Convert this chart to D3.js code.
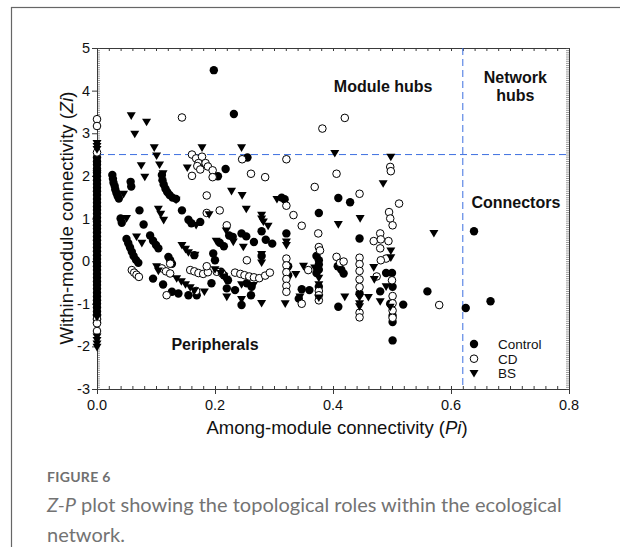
<!DOCTYPE html>
<html><head><meta charset="utf-8">
<script src="https://cdn.jsdelivr.net/npm/d3@7"></script>
<style>body{margin:0;background:#fff}svg{display:block}</style>
</head><body><svg id="c" width="620" height="547"></svg>
<script>
// ---------------- data ----------------
const xTicks = [0, 0.2, 0.4, 0.6, 0.8];
const xTickLabels = ["0.0", "0.2", "0.4", "0.6", "0.8"];
const yTicks = [-3, -2, -1, 0, 1, 2, 3, 4, 5];
const yTickLabels = ["-3", "-2", "-1", "0", "1", "2", "3", "4", "5"];
const seriesNames = ["Control", "CD", "BS"];
const hubThresholdZ = 2.5;
const connectorThresholdP = 0.62;
const regionNames = ["Module hubs", "Network hubs", "Connectors", "Peripherals"];

// Control (filled circles): [Pi, Zi]
const control = [
  [0,2.43],[0,2.34],[0,2.26],[0,2.17],[0,2.08],[0,1.99],[0,1.9],[0,1.81],[0,1.72],[0,1.64],
  [0,1.55],[0,1.46],[0,1.37],[0,1.28],[0,1.2],[0,1.11],[0,1.02],[0,0.93],[0,0.84],[0,0.76],
  [0,0.67],[0,0.58],[0,0.49],[0,0.4],[0,0.32],[0,0.23],[0,0.14],[0,0.05],[0,-0.04],[0,-0.12],
  [0,-0.21],[0,-0.3],[0,-0.39],[0,-0.48],[0,-0.56],[0,-0.65],[0,-0.74],[0,-0.83],[0,-0.92],[0,-1.0],
  [0,-1.09],[0,-1.18],[0,-1.27],[0,-1.36],[0,-1.44],
  [0.198,4.48],[0.232,3.45],
  [0.026,2.02],[0.027,1.93],[0.028,1.84],[0.030,1.76],[0.031,1.68],[0.033,1.60],[0.035,1.53],[0.037,1.47],
  [0.057,1.86],[0.058,1.75],
  [0.110,2.02],[0.111,1.90],[0.113,1.80],[0.116,1.70],[0.119,1.62],[0.123,1.55],[0.128,1.49],[0.134,1.46],
  [0.205,1.99],[0.218,2.16],[0.255,2.43],
  [0.313,1.49],[0.318,1.45],[0.376,1.13],[0.409,1.48],[0.429,1.38],
  [0.040,1.00],[0.042,0.90],[0.072,1.19],[0.079,0.86],
  [0.144,1.19],[0.155,0.97],[0.160,0.89],[0.175,0.92],
  [0.279,0.70],[0.321,0.65],[0.445,0.53],
  [0.224,0.60],[0.230,0.57],[0.245,0.65],[0.253,0.58],[0.266,0.45],[0.286,0.50],[0.297,0.41],
  [0.208,0.43],[0.215,0.35],
  [0.050,0.52],[0.053,0.42],[0.056,0.32],[0.059,0.22],[0.062,0.12],[0.066,0.03],[0.070,-0.04],
  [0.090,0.60],[0.095,0.48],[0.100,0.38],[0.104,0.30],
  [0.121,0.10],[0.124,0.02],[0.127,-0.06],
  [0.165,0.14],[0.197,0.18],[0.200,0.02],[0.279,0.12],
  [0.372,0.12],[0.376,0.02],[0.376,-0.08],[0.376,-0.20],[0.372,-0.28],
  [0.408,-0.12],[0.414,-0.20],[0.418,-0.29],
  [0.095,-0.41],[0.112,-0.55],[0.127,-0.72],[0.138,-0.76],
  [0.155,-0.80],[0.169,-0.80],[0.194,-0.52],[0.210,-0.25],[0.215,-0.33],
  [0.220,-0.64],[0.234,-0.68],[0.222,-0.45],
  [0.245,-1.03],[0.261,-0.80],[0.262,-0.60],[0.254,-0.52],
  [0.324,-0.12],[0.324,-0.33],
  [0.347,-0.66],[0.360,-0.68],[0.376,-0.60],[0.342,-0.88],
  [0.409,-1.07],[0.480,-0.71],[0.490,-0.28],[0.500,-0.28],[0.501,-0.60],[0.501,-1.28],[0.501,-1.43],
  [0.501,-1.86],[0.519,-1.02],[0.497,-1.00],[0.445,-0.76],
  [0.560,-0.71],[0.639,0.70],[0.625,-1.10],[0.667,-0.94]
];

// CD (open circles): [Pi, Zi]
const cd = [
  [0,3.33],[0,3.17],[0,2.55],[0,-1.36],[0,-1.46],[0,-1.64],
  [0.144,3.37],[0.382,3.11],[0.420,3.36],
  [0.406,2.05],[0.369,1.74],[0.261,2.05],[0.285,1.97],[0.321,2.39],[0.246,2.39],
  [0.445,1.58],[0.497,2.21],[0.498,2.11],
  [0.161,2.50],[0.168,2.41],[0.178,2.45],[0.172,2.30],[0.170,2.23],[0.175,2.15],[0.184,2.30],
  [0.188,2.22],[0.196,2.13],[0.161,2.00],[0.196,1.97],
  [0.186,1.54],[0.186,1.13],[0.208,1.19],[0.220,0.84],
  [0.321,1.30],[0.333,1.08],[0.347,0.83],
  [0.375,0.65],[0.376,0.33],[0.378,0.25],
  [0.512,1.35],[0.495,1.15],[0.497,1.00],[0.501,0.84],
  [0.480,0.65],[0.469,0.47],[0.481,0.51],[0.494,0.47],[0.480,0.30],
  [0.490,0.06],[0.481,0.02],[0.474,-0.36],[0.500,-0.45],
  [0.501,-0.82],[0.501,-0.99],[0.501,-1.16],[0.501,-1.33],
  [0.445,0.08],[0.445,-0.07],[0.445,-0.23],[0.445,-0.43],[0.445,-0.61],[0.445,-1.21],[0.445,-1.32],
  [0.406,0.10],[0.412,-0.04],[0.418,-0.01],
  [0.358,-0.21],[0.347,-1.00],[0.376,-0.92],[0.376,-0.70],[0.376,-0.80],
  [0.321,0.06],[0.321,-0.10],[0.321,-0.26],[0.321,-0.42],[0.321,-0.58],[0.321,-0.72],
  [0.580,-1.03],
  [0.059,-0.21],[0.063,-0.27],[0.067,-0.32],[0.071,-0.37],
  [0.110,-0.17],[0.117,-0.24],[0.124,-0.29],[0.124,-0.06],[0.118,-0.80],
  [0.158,-0.21],[0.165,-0.24],[0.172,-0.28],[0.180,-0.30],[0.188,-0.26],[0.186,-0.12],[0.203,-0.25],
  [0.212,-0.29],[0.168,-0.70],
  [0.234,-0.27],[0.243,-0.30],[0.250,-0.33],[0.258,-0.36],[0.266,-0.38],[0.275,-0.40],
  [0.285,-0.34],[0.293,-0.27],[0.254,0.02]
];

// BS (down triangles): [Pi, Zi]
const bs = [
  [0,2.76],[0,2.69],[0,2.62],[0,2.05],[0,-1.32],[0,-1.78],[0,-1.86],[0,-1.94],[0,-2.02],
  [0.058,3.41],[0.084,3.26],[0.064,2.98],[0.097,2.66],[0.101,2.47],[0.178,2.66],[0.245,2.66],
  [0.403,2.53],[0.498,2.44],[0.485,1.82],
  [0.075,2.24],[0.106,2.26],[0.081,1.97],[0.153,2.19],[0.112,2.05],[0.045,1.57],[0.228,1.64],
  [0.246,1.54],[0.134,1.43],[0.253,1.22],[0.305,1.45],
  [0.050,1.00],[0.104,1.22],[0.108,1.10],[0.113,0.96],[0.168,0.84],[0.190,1.09],
  [0.279,1.08],[0.279,0.99],[0.282,0.92],[0.290,0.82],
  [0.321,0.45],[0.321,0.37],[0.409,0.86],[0.446,1.00],[0.571,0.65],
  [0.219,0.71],[0.231,0.45],[0.202,0.47],
  [0.067,0.57],[0.076,0.42],
  [0.144,0.37],[0.150,0.28],[0.155,0.20],[0.166,0.14],
  [0.248,0.33],[0.498,0.24],[0.498,0.08],[0.279,0.16],[0.279,-0.04],
  [0.101,-0.13],[0.104,-0.23],
  [0.135,-0.41],[0.143,-0.48],[0.150,-0.55],[0.158,-0.62],[0.165,-0.70],[0.182,-0.72],
  [0.200,-0.20],[0.210,-0.29],[0.215,-0.37],[0.219,-0.42],
  [0.245,-0.55],[0.265,-0.57],[0.220,-0.84],[0.245,-0.90],
  [0.279,-0.99],[0.319,-1.00],[0.337,-0.31],[0.350,-0.12],[0.369,-0.16],[0.344,-0.84],
  [0.376,-0.40],[0.376,-0.55],[0.376,-0.86],
  [0.469,-0.15],[0.470,-0.43],[0.490,-0.60],[0.480,-0.95],
  [0.420,-0.84],[0.445,-0.85],[0.460,-0.85],[0.445,-1.00],[0.445,-1.07],[0.497,-1.08]
];

// ---------------- drawing ----------------
const svg = d3.select("#c");
const FONT = "Arial, 'Liberation Sans', Helvetica, sans-serif";
const x = d3.scaleLinear().domain([0, 0.8]).range([97, 569]);
const y = d3.scaleLinear().domain([-3, 5]).range([389, 48]);

// outer figure frame
svg.append("rect").attr("x", 11.5).attr("y", 7.5).attr("width", 800).attr("height", 800)
  .attr("fill", "none").attr("stroke", "#666").attr("stroke-width", 1.2);

const minorX = d3.range(0, 0.8001, 0.02);
const minorY = d3.range(-3, 5.0001, 0.05);
const axisColor = "#3a3a3a";

function styleAxis(g, hideDomain) {
  g.selectAll("line").attr("stroke", axisColor);
  g.select(".domain").attr("stroke", axisColor).attr("display", hideDomain ? "none" : null);
}

// bottom
svg.append("g").attr("transform", `translate(0,${y(-3)})`)
  .call(d3.axisBottom(x).tickValues(minorX).tickSize(-3).tickFormat(""))
  .call(g => styleAxis(g, true));
svg.append("g").attr("transform", `translate(0,${y(-3)})`)
  .call(d3.axisBottom(x).tickValues(xTicks).tickFormat("").tickSizeInner(5).tickSizeOuter(0))
  .call(g => styleAxis(g, false));
// top
svg.append("g").attr("transform", `translate(0,${y(5)})`)
  .call(d3.axisTop(x).tickValues(minorX).tickSizeInner(-3).tickSizeOuter(0).tickFormat(""))
  .call(g => styleAxis(g, false));
// left
svg.append("g").attr("transform", `translate(${x(0)},0)`)
  .call(d3.axisLeft(y).tickValues(minorY).tickSize(-3).tickFormat(""))
  .call(g => { styleAxis(g, true); g.selectAll("line").attr("stroke-width", 0.6).attr("stroke", "#555"); });
svg.append("g").attr("transform", `translate(${x(0)},0)`)
  .call(d3.axisLeft(y).tickValues(yTicks).tickFormat("").tickSizeInner(5).tickSizeOuter(0))
  .call(g => styleAxis(g, false));
// right
svg.append("g").attr("transform", `translate(${x(0.8)},0)`)
  .call(d3.axisRight(y).tickValues(minorY).tickSizeInner(-3).tickSizeOuter(0).tickFormat(""))
  .call(g => { styleAxis(g, false); g.selectAll(".tick line").attr("stroke-width", 0.6).attr("stroke", "#555"); });

// tick labels (explicit text, positioned through the scales)
const tl = svg.append("g").attr("font-family", FONT).attr("font-size", 14.5).attr("fill", "#111");
tl.selectAll("text.xl").data(xTicks).join("text").attr("class", "xl")
  .attr("x", d => x(d)).attr("y", y(-3) + 21).attr("text-anchor", "middle")
  .text((d, i) => xTickLabels[i]);
tl.selectAll("text.yl").data(yTicks).join("text").attr("class", "yl")
  .attr("x", x(0) - 7).attr("y", d => y(d) + 5).attr("text-anchor", "end")
  .text((d, i) => yTickLabels[i]);

// threshold dashed lines
const dashColor = "#3d6fe0";
svg.append("line").attr("x1", x(0)).attr("x2", x(0.8)).attr("y1", y(hubThresholdZ)).attr("y2", y(hubThresholdZ))
  .attr("stroke", dashColor).attr("stroke-width", 1).attr("stroke-dasharray", "7,4");
svg.append("line").attr("x1", x(connectorThresholdP)).attr("x2", x(connectorThresholdP)).attr("y1", y(5)).attr("y2", y(-3))
  .attr("stroke", dashColor).attr("stroke-width", 1).attr("stroke-dasharray", "7,4");

// markers
const triPath = "M-4.5,-3.4L4.5,-3.4L0,4.2Z";
const pts = svg.append("g");
pts.selectAll("circle.ctl").data(control).join("circle").attr("class", "ctl")
  .attr("cx", d => x(d[0])).attr("cy", d => y(d[1])).attr("r", 4.2).attr("fill", "#000");
pts.selectAll("circle.cd").data(cd).join("circle").attr("class", "cd")
  .attr("cx", d => x(d[0])).attr("cy", d => y(d[1])).attr("r", 3.8)
  .attr("fill", "#fff").attr("stroke", "#000").attr("stroke-width", 1);
pts.selectAll("path.bs").data(bs).join("path").attr("class", "bs")
  .attr("transform", d => `translate(${x(d[0])},${y(d[1])})`).attr("d", triPath).attr("fill", "#000");

// region labels
const lab = svg.append("g").attr("font-family", FONT).attr("font-weight", "bold").attr("font-size", 16)
  .attr("text-anchor", "middle").attr("fill", "#111");
lab.append("text").attr("x", x(0.485)).attr("y", y(3.96)).text(regionNames[0]);
const nh = regionNames[1].split(" ");
lab.append("text").attr("x", x(0.709)).attr("y", y(4.17)).text(nh[0]);
lab.append("text").attr("x", x(0.709)).attr("y", y(3.75)).text(nh[1]);
lab.append("text").attr("x", x(0.71)).attr("y", y(1.24)).text(regionNames[2]);
lab.append("text").attr("x", x(0.2)).attr("y", y(-2.08)).text(regionNames[3]);

// legend
const leg = svg.append("g").attr("font-family", FONT).attr("font-size", 13.5).attr("fill", "#111");
const legX = 474, legY0 = 344, legDY = 14.7;
seriesNames.forEach((name, i) => {
  const cy = legY0 + i * legDY;
  if (i === 0) leg.append("circle").attr("cx", legX).attr("cy", cy).attr("r", 4.2).attr("fill", "#000");
  if (i === 1) leg.append("circle").attr("cx", legX).attr("cy", cy).attr("r", 3.8).attr("fill", "#fff").attr("stroke", "#000");
  if (i === 2) leg.append("path").attr("transform", `translate(${legX},${cy})`).attr("d", triPath).attr("fill", "#000");
  leg.append("text").attr("x", legX + 24).attr("y", cy + 4.8).text(name);
});

// axis titles
const xt = svg.append("text").attr("x", 337).attr("y", 434).attr("text-anchor", "middle")
  .attr("font-family", FONT).attr("font-size", 18.5).attr("fill", "#111");
xt.append("tspan").text("Among-module connectivity (");
xt.append("tspan").attr("font-style", "italic").text("Pi");
xt.append("tspan").text(")");
const yt = svg.append("text").attr("transform", "translate(73,218) rotate(-90)").attr("text-anchor", "middle")
  .attr("font-family", FONT).attr("font-size", 18.5).attr("fill", "#111");
yt.append("tspan").text("Within-module connectivity (");
yt.append("tspan").attr("font-style", "italic").text("Zi");
yt.append("tspan").text(")");

// caption
const CAPFONT = "Lato, 'Open Sans', 'Noto Sans', sans-serif";
svg.append("text").attr("x", 47).attr("y", 482).attr("font-family", CAPFONT).attr("font-weight", 700)
  .attr("font-size", 14).attr("fill", "#707070").attr("letter-spacing", 0.3).text("FIGURE 6");
const cap = svg.append("text").attr("x", 47).attr("y", 512).attr("font-family", CAPFONT)
  .attr("font-size", 20).attr("fill", "#737373");
cap.append("tspan").attr("font-style", "italic").text("Z-P");
cap.append("tspan").text(" plot showing the topological roles within the ecological");
svg.append("text").attr("x", 47).attr("y", 542).attr("font-family", CAPFONT)
  .attr("font-size", 20).attr("fill", "#737373").text("network.");
</script>
</body></html>
